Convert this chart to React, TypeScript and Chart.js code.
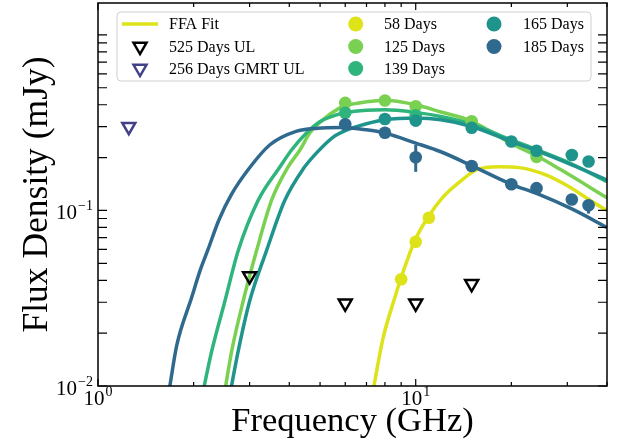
import React, { useEffect, useRef } from 'react';
import { Chart, registerables } from 'chart.js';

Chart.register(...registerables);

const SERIF = '"Liberation Serif", "Times New Roman", "DejaVu Serif", serif';

// ---- colours (viridis-like) ----
const C58 = '#dde318';
const C125 = '#7ad151';
const C139 = '#2fb47c';
const C165 = '#1f948c';
const C185 = '#30698e';
const CGMRT = '#424086';

// ---- axis ranges ----
const X_MIN = 1;
const X_MAX = 40;
const Y_MIN = 0.01;
const Y_MAX = 1.52;

// ---- FFA fit curves (frequency GHz, flux mJy) ----
const fit58Freq = [7.34, 7.89, 8.59, 9.0, 9.93, 10.93, 12.18, 13.75, 15.52, 18.37, 21.2, 25.8, 30.5, 36.1, 40];
const fit58Flux = [0.0094, 0.0187, 0.0318, 0.0415, 0.0672, 0.0915, 0.119, 0.1455, 0.170, 0.1774, 0.1754, 0.159, 0.136, 0.1116, 0.100];

const fit125Freq = [2.508, 2.633, 2.863, 3.155, 3.517, 3.966, 4.32, 4.64, 5.11, 5.77, 6.0, 7.0, 8.0, 10, 12, 15, 20, 24, 28.4, 40];
const fit125Flux = [0.0094, 0.0157, 0.0304, 0.0589, 0.114, 0.177, 0.221, 0.276, 0.329, 0.384, 0.395, 0.416, 0.425, 0.400, 0.364, 0.322, 0.240, 0.205, 0.172, 0.118];

const fit139Freq = [2.144, 2.278, 2.508, 2.762, 3.19, 3.736, 4.066, 4.53, 4.99, 5.63, 6.0, 7.0, 8.0, 10, 12, 15, 20, 24, 31, 40];
const fit139Flux = [0.0094, 0.0157, 0.0304, 0.0589, 0.114, 0.177, 0.221, 0.276, 0.320, 0.350, 0.360, 0.372, 0.375, 0.362, 0.343, 0.310, 0.252, 0.222, 0.184, 0.146];

const fit165Freq = [2.615, 2.76, 3.0, 3.39, 3.87, 4.42, 4.9, 5.5, 6.0, 7.0, 8.0, 10, 12, 15, 20, 24, 31, 40];
const fit165Flux = [0.0094, 0.0157, 0.0304, 0.0589, 0.114, 0.172, 0.215, 0.262, 0.285, 0.312, 0.329, 0.336, 0.329, 0.301, 0.247, 0.219, 0.182, 0.149];

const fit185Freq = [1.68, 1.77, 1.97, 2.1, 2.22, 2.4, 2.62, 3.0, 3.47, 4.2, 4.9, 5.8, 7.0, 8.0, 10, 12, 15, 20, 24, 31, 40];
const fit185Flux = [0.0098, 0.0171, 0.0318, 0.046, 0.060, 0.088, 0.122, 0.175, 0.236, 0.282, 0.294, 0.297, 0.288, 0.276, 0.242, 0.216, 0.180, 0.141, 0.125, 0.102, 0.080];

// ---- measured points ----
const d58Freq = [9, 10, 11];
const d58Flux = [0.0406, 0.0664, 0.0908];

const d125Freq = [6, 8, 10, 15, 24];
const d125Flux = [0.410, 0.423, 0.392, 0.322, 0.202];

const d139Freq = [6, 10];
const d139Flux = [0.360, 0.348];

const d165Freq = [8, 10, 15, 20, 24, 31, 35];
const d165Flux = [0.332, 0.325, 0.296, 0.247, 0.219, 0.207, 0.190];

const d185Freq = [6, 8, 10, 15, 20, 24, 31, 35];
const d185Flux = [0.310, 0.277, 0.201, 0.179, 0.141, 0.134, 0.1155, 0.107];
const d185Err = [0, 0, 0.035, 0, 0, 0, 0, 0.011];

// ---- upper limits ----
const ul525Freq = [3, 6, 10, 15];
const ul525Flux = [0.0423, 0.0296, 0.0296, 0.0382];

const gmrtFreq = [1.25];
const gmrtFlux = [0.30];

const pts = (xs: number[], ys: number[]) => xs.map((x, i) => ({ x, y: ys[i] }));

const isNice = (v: number) => {
  const e = Math.floor(Math.log10(v) + 1e-9);
  const m = v / Math.pow(10, e);
  return Math.abs(m - Math.round(m)) < 1e-6;
};
const isDecade = (v: number) => {
  const e = Math.log10(v);
  return Math.abs(e - Math.round(e)) < 1e-6;
};
const expText = (v: number) => {
  const e = Math.round(Math.log10(v));
  return e < 0 ? '\u2212' + String(-e) : String(e);
};

const MAIN_FONT = `21px ${SERIF}`;
const SUP_FONT = `14px ${SERIF}`;

// draws "10^n" labels at the decade ticks of the library's log scales
const tickLabelPlugin = {
  id: 'decadeLabels',
  afterDraw(chart: any) {
    const { ctx, chartArea: a, scales } = chart;
    ctx.save();
    ctx.fillStyle = '#000';
    ctx.textBaseline = 'alphabetic';
    ctx.textAlign = 'left';
    const measure = (v: number) => {
      ctx.font = MAIN_FONT;
      const w1 = ctx.measureText('10').width;
      ctx.font = SUP_FONT;
      const w2 = ctx.measureText(expText(v)).width;
      return [w1, w2];
    };
    const draw = (v: number, left: number, base: number, w1: number) => {
      ctx.font = MAIN_FONT;
      ctx.fillText('10', left, base);
      ctx.font = SUP_FONT;
      ctx.fillText(expText(v), left + w1 + 1, base - 9);
    };
    scales.x.ticks.forEach((t: any) => {
      if (!isDecade(t.value)) return;
      const px = scales.x.getPixelForValue(t.value);
      const [w1, w2] = measure(t.value);
      draw(t.value, px - (w1 + w2 + 1) / 2, a.bottom + 18.5, w1);
    });
    scales.y.ticks.forEach((t: any) => {
      if (!isDecade(t.value) || t.value >= 1) return;
      const py = scales.y.getPixelForValue(t.value);
      const [w1, w2] = measure(t.value);
      draw(t.value, a.left - 5 - (w1 + w2 + 1), py + 8.5, w1);
    });
    ctx.restore();
  },
};

const framePlugin = {
  id: 'frame',
  afterDatasetsDraw(chart: any) {
    const { ctx, chartArea: a, scales } = chart;
    ctx.save();
    ctx.strokeStyle = '#000';
    ctx.lineWidth = 1.2;
    scales.x.ticks.forEach((t: any) => {
      if (!isNice(t.value)) return;
      const px = scales.x.getPixelForValue(t.value);
      if (px < a.left - 0.5 || px > a.right + 0.5) return;
      const len = isDecade(t.value) ? 7 : 4;
      ctx.beginPath();
      ctx.moveTo(px, a.bottom);
      ctx.lineTo(px, a.bottom - len);
      ctx.moveTo(px, a.top);
      ctx.lineTo(px, a.top + len);
      ctx.stroke();
    });
    scales.y.ticks.forEach((t: any) => {
      if (!isNice(t.value)) return;
      const py = scales.y.getPixelForValue(t.value);
      if (py < a.top - 0.5 || py > a.bottom + 0.5) return;
      const len = 9;
      ctx.beginPath();
      ctx.moveTo(a.left, py);
      ctx.lineTo(a.left + len, py);
      ctx.moveTo(a.right, py);
      ctx.lineTo(a.right - len, py);
      ctx.stroke();
    });
    ctx.lineWidth = 1.5;
    ctx.strokeRect(a.left, a.top, a.right - a.left, a.bottom - a.top);
    ctx.restore();
  },
};

const errorBarPlugin = {
  id: 'errbars',
  beforeDatasetsDraw(chart: any) {
    const { ctx, scales } = chart;
    ctx.save();
    chart.data.datasets.forEach((ds: any) => {
      if (!ds.errs) return;
      ctx.strokeStyle = ds.backgroundColor;
      ctx.lineWidth = 3;
      ds.data.forEach((p: any, i: number) => {
        const e = ds.errs[i];
        if (!e) return;
        const px = scales.x.getPixelForValue(p.x);
        const y1 = scales.y.getPixelForValue(p.y - e);
        const y2 = scales.y.getPixelForValue(p.y + e);
        ctx.beginPath();
        ctx.moveTo(px, y1);
        ctx.lineTo(px, y2);
        ctx.stroke();
      });
    });
    ctx.restore();
  },
};

type LegendItem = { label: string; kind: 'line' | 'circle' | 'tri'; color: string };
const legendCols: LegendItem[][] = [
  [
    { label: 'FFA Fit', kind: 'line', color: C58 },
    { label: '525 Days UL', kind: 'tri', color: '#000000' },
    { label: '256 Days GMRT UL', kind: 'tri', color: CGMRT },
  ],
  [
    { label: '58 Days', kind: 'circle', color: C58 },
    { label: '125 Days', kind: 'circle', color: C125 },
    { label: '139 Days', kind: 'circle', color: C139 },
  ],
  [
    { label: '165 Days', kind: 'circle', color: C165 },
    { label: '185 Days', kind: 'circle', color: C185 },
  ],
];

const legendPlugin = {
  id: 'customLegend',
  afterDraw(chart: any) {
    const { ctx, chartArea: a } = chart;
    const bx = a.left + 19;
    const by = a.top + 9;
    const bw = 474;
    const bh = 69;
    ctx.save();
    const r = 4;
    ctx.beginPath();
    ctx.moveTo(bx + r, by);
    ctx.lineTo(bx + bw - r, by);
    ctx.quadraticCurveTo(bx + bw, by, bx + bw, by + r);
    ctx.lineTo(bx + bw, by + bh - r);
    ctx.quadraticCurveTo(bx + bw, by + bh, bx + bw - r, by + bh);
    ctx.lineTo(bx + r, by + bh);
    ctx.quadraticCurveTo(bx, by + bh, bx, by + bh - r);
    ctx.lineTo(bx, by + r);
    ctx.quadraticCurveTo(bx, by, bx + r, by);
    ctx.closePath();
    ctx.fillStyle = 'rgba(255,255,255,0.8)';
    ctx.fill();
    ctx.strokeStyle = '#d0d0d0';
    ctx.lineWidth = 1;
    ctx.stroke();

    const colHandle = [bx + 23, bx + 238.7, bx + 377];
    const colText = [bx + 52, bx + 267, bx + 406];
    const rowY = [by + 12, by + 34.5, by + 56.5];
    ctx.font = `16px ${SERIF}`;
    ctx.textBaseline = 'middle';
    ctx.textAlign = 'left';
    legendCols.forEach((col, ci) => {
      col.forEach((it, ri) => {
        const hx = colHandle[ci];
        const hy = rowY[ri];
        if (it.kind === 'line') {
          ctx.strokeStyle = it.color;
          ctx.lineWidth = 3.5;
          ctx.beginPath();
          ctx.moveTo(hx - 18, hy);
          ctx.lineTo(hx + 18, hy);
          ctx.stroke();
        } else if (it.kind === 'circle') {
          ctx.fillStyle = it.color;
          ctx.beginPath();
          ctx.arc(hx, hy, 7.5, 0, Math.PI * 2);
          ctx.fill();
        } else {
          const rr = 7.5;
          ctx.strokeStyle = it.color;
          ctx.lineWidth = 2.5;
          ctx.beginPath();
          ctx.moveTo(hx, hy + rr);
          ctx.lineTo(hx - rr * 0.866, hy - rr * 0.5);
          ctx.lineTo(hx + rr * 0.866, hy - rr * 0.5);
          ctx.closePath();
          ctx.stroke();
        }
        ctx.fillStyle = '#000';
        ctx.fillText(it.label, colText[ci], hy + 1);
      });
    });
    ctx.restore();
  },
};

export default function App() {
  const ref = useRef<HTMLCanvasElement>(null);
  useEffect(() => {
    const fit = (xs: number[], ys: number[], color: string, order: number) => ({
      data: pts(xs, ys),
      showLine: true,
      borderColor: color,
      backgroundColor: color,
      borderWidth: 3.5,
      pointRadius: 0,
      pointHoverRadius: 0,
      cubicInterpolationMode: 'monotone' as const,
      fill: false,
      clip: 0,
      order,
    });
    const dots = (xs: number[], ys: number[], color: string, order: number, errs?: number[]) => ({
      data: pts(xs, ys),
      showLine: false,
      backgroundColor: color,
      borderColor: color,
      borderWidth: 0,
      pointRadius: 6.3,
      pointStyle: 'circle',
      order,
      errs,
    });
    const tri = (xs: number[], ys: number[], color: string, order: number) => ({
      data: pts(xs, ys),
      showLine: false,
      backgroundColor: 'rgba(0,0,0,0)',
      borderColor: color,
      borderWidth: 2.5,
      pointRadius: 7.5,
      pointStyle: 'triangle',
      rotation: 180,
      order,
    });

    const chart = new Chart(ref.current as HTMLCanvasElement, {
      type: 'scatter',
      data: {
        datasets: [
          fit(fit58Freq, fit58Flux, C58, 15),
          fit(fit125Freq, fit125Flux, C125, 14),
          fit(fit139Freq, fit139Flux, C139, 13),
          fit(fit165Freq, fit165Flux, C165, 12),
          fit(fit185Freq, fit185Flux, C185, 11),
          dots(d58Freq, d58Flux, C58, 9),
          dots(d125Freq, d125Flux, C125, 8),
          dots(d139Freq, d139Flux, C139, 7),
          dots(d165Freq, d165Flux, C165, 6),
          dots(d185Freq, d185Flux, C185, 5, d185Err),
          tri(ul525Freq, ul525Flux, '#000000', 2),
          tri(gmrtFreq, gmrtFlux, CGMRT, 1),
        ] as any,
      },
      options: {
        animation: false,
        responsive: false,
        devicePixelRatio: 1,
        layout: { autoPadding: false, padding: { top: 3, right: 16, left: 0, bottom: 0 } },
        plugins: {
          legend: { display: false },
          tooltip: { enabled: false },
        },
        events: [],
        scales: {
          x: {
            type: 'logarithmic',
            min: X_MIN,
            max: X_MAX,
            grid: { display: false, drawTicks: false },
            border: { display: false },
            afterFit: (s: any) => {
              s.height = 59;
              s.paddingLeft = 0;
              s.paddingRight = 0;
            },
            ticks: { display: false, autoSkip: false },
            title: {
              display: true,
              text: 'Frequency (GHz)',
              color: '#000',
              font: { family: SERIF, size: 34.5 },
              padding: { top: 0, bottom: 2 },
            },
          },
          y: {
            type: 'logarithmic',
            min: Y_MIN,
            max: Y_MAX,
            grid: { display: false, drawTicks: false },
            border: { display: false },
            afterFit: (s: any) => {
              s.width = 98;
              s.paddingTop = 0;
              s.paddingBottom = 0;
            },
            ticks: { display: false, autoSkip: false },
            title: {
              display: true,
              text: 'Flux Density (mJy)',
              color: '#000',
              font: { family: SERIF, size: 35.5 },
              padding: { top: 16, bottom: 0 },
            },
          },
        },
      } as any,
      plugins: [errorBarPlugin, framePlugin, tickLabelPlugin, legendPlugin],
    });
    return () => chart.destroy();
  }, []);

  return (
    <div style={{ position: 'fixed', left: 0, top: 0, width: 623, height: 445, background: '#ffffff' }}>
      <canvas ref={ref} width={623} height={445} style={{ width: 623, height: 445, display: 'block' }} />
    </div>
  );
}
